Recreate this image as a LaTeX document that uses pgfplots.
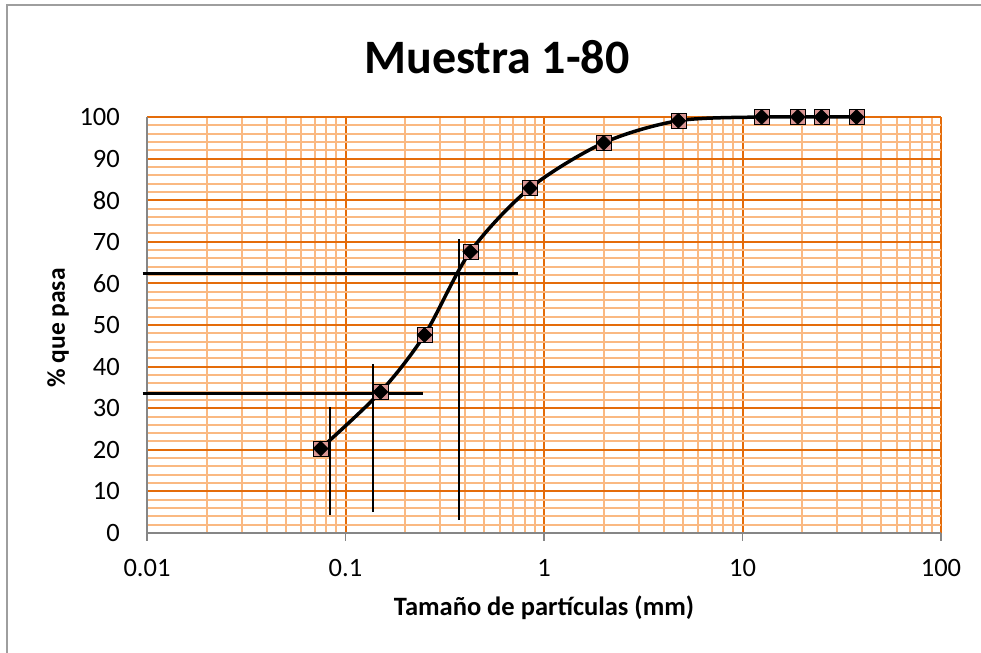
\documentclass[border=0pt]{standalone}
\usepackage{fontspec}
\setmainfont{Carlito}
\usepackage{pgfplots}
\pgfplotsset{compat=1.18}

\definecolor{majgrid}{RGB}{228,108,10}
\definecolor{mingrid}{RGB}{250,185,130}
\definecolor{axgray}{RGB}{134,134,134}
\definecolor{pinkmk}{RGB}{217,150,148}

\begin{document}
\begin{tikzpicture}[x=1bp,y=1bp]
\useasboundingbox (0,0) rectangle (981,653);
\draw[axgray!80, line width=1.5bp] (7,-10) -- (7,648) -- (995,648);

\begin{axis}[
    at={(147bp,120bp)}, anchor=south west,
    width=794bp, height=416bp, scale only axis,
    xmode=log,
    xmin=0.01, xmax=100,
    ymin=0, ymax=100,
    xtick={0.01,0.1,1,10,100},
    xticklabels={0.01,0.1,1,10,100},
    ytick={0,10,...,100},
    minor y tick num=4,
    grid=both,
    major grid style={draw=majgrid, line width=2bp},
    minor grid style={draw=mingrid, line width=2bp},
    axis lines*=left,
    axis line style={axgray, line width=2bp, -},
    tick align=outside,
    major tick length=8bp,
    minor tick length=0pt,
    xtick style={axgray, line width=1.5bp},
    ytick style={draw=none},
    /pgf/number format/assume math mode=true,
    tick label style={font=\fontsize{26.5bp}{30bp}\selectfont},
    xticklabel style={anchor=north, inner sep=0pt, yshift=-18bp},
    yticklabel style={anchor=east, inner sep=0pt, xshift=-19bp},
    clip=false,
]
% pink square markers behind
\addplot[only marks, mark=square*, mark size=7.5bp, mark options={draw=none, fill=pinkmk}]
  coordinates {(0.075,20.3)(0.15,33.9)(0.25,47.6)(0.425,67.6)(0.85,82.9)(2,93.8)(4.75,99.1)(12.5,100)(19,100)(25,100)(37.5,100)};

% reading lines
\addplot[black, line width=3bp] coordinates {(0.0095,62.3)(0.74,62.3)};
\addplot[black, line width=3bp] coordinates {(0.0095,33.65)(0.245,33.65)};
\addplot[black, line width=2bp] coordinates {(0.0835,4.3)(0.0835,30.3)};
\addplot[black, line width=2bp] coordinates {(0.1377,5.0)(0.1377,40.6)};
\addplot[black, line width=2bp] coordinates {(0.373,3.1)(0.373,70.7)};

% grading curve
\addplot[black, line width=3.5bp, smooth, mark=square*, mark size=5.3bp,
  mark options={rotate=45, fill=black, line width=0.5bp}]
  coordinates {(0.075,20.3)(0.15,33.9)(0.25,47.6)(0.425,67.6)(0.85,82.9)(2,93.8)(4.75,99.1)(12.5,100)(19,100)(25,100)(37.5,100)};
\end{axis}

\node[font=\bfseries\fontsize{48bp}{54bp}\selectfont] at (497,596) {Muestra 1-80};
\node[font=\bfseries\fontsize{26.5bp}{30bp}\selectfont] at (544,45) {Tamaño de partículas (mm)};
\node[font=\bfseries\fontsize{25.5bp}{30bp}\selectfont, rotate=90] at (58,325) {\% que pasa};
\end{tikzpicture}
\end{document}
